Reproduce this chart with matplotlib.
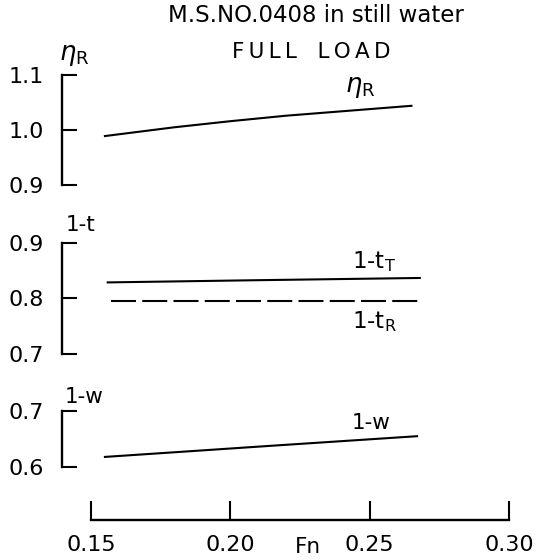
import matplotlib
matplotlib.use("Agg")
import matplotlib.pyplot as plt

# data (Fn vs. propulsion factors)
fn_eta = [0.155, 0.18, 0.20, 0.22, 0.24, 0.265]
eta_r = [0.989, 1.005, 1.016, 1.026, 1.034, 1.044]

fn_tt = [0.156, 0.21, 0.268]
t_thrust = [0.829, 0.833, 0.837]   # 1-tT

fn_tr = [0.157, 0.268]
t_resist = [0.795, 0.795]          # 1-tR

fn_w = [0.155, 0.215, 0.267]
one_w = [0.618, 0.638, 0.655]

x_ticks = [0.15, 0.20, 0.25, 0.30]
x_labels = ["0.15", "0.20", "0.25", "0.30"]

plt.rcParams["font.family"] = ["DejaVu Sans"]
plt.rcParams["mathtext.fontset"] = "dejavusans"

W, H = 542, 560
fig = plt.figure(figsize=(W / 100, H / 100), dpi=100)

# px -> Fn mapping: 0.15 at x=91, 0.30 at x=509
def fn_at(px):
    return 0.15 + (px - 91) * 0.15 / 418

x_left, x_right = 62, 520
xlim = (fn_at(x_left), fn_at(x_right))

fs = 15.5
lw = 1.5

def panel(top, bottom):
    ax = fig.add_axes([x_left / W, 1 - bottom / H, (x_right - x_left) / W, (bottom - top) / H])
    ax.set_xlim(*xlim)
    for s in ["top", "right", "bottom"]:
        ax.spines[s].set_visible(False)
    ax.spines["left"].set_linewidth(1.7)
    ax.tick_params(axis="y", direction="in", length=11, width=1.5, pad=13, labelsize=fs + 0.5)
    ax.set_xticks([])
    ax.patch.set_alpha(0)
    return ax

# eta_R panel
ax1 = panel(75, 185)
ax1.set_ylim(0.9, 1.1)
ax1.set_yticks([0.9, 1.0, 1.1])
ax1.set_yticklabels(["0.9", "1.0", "1.1"])
ax1.plot(fn_eta, eta_r, color="black", lw=lw)
ax1.text(fn_at(345), 1.078, r"$\eta_\mathrm{R}$", fontsize=fs + 3, va="center")
ax1.text(fn_at(59), 1.136, r"$\eta_\mathrm{R}$", fontsize=fs + 3, va="center")

# 1-t panel
ax2 = panel(243, 354)
ax2.set_ylim(0.7, 0.9)
ax2.set_yticks([0.7, 0.8, 0.9])
ax2.set_yticklabels(["0.7", "0.8", "0.9"])
ax2.plot(fn_tt, t_thrust, color="black", lw=lw)
ax2.plot(fn_tr, t_resist, color="black", lw=lw, dashes=(12, 3))
ax2.text(fn_at(352), 0.866, r"1-t$_\mathrm{T}$", fontsize=fs + 1, va="center")
ax2.text(fn_at(352), 0.758, r"1-t$_\mathrm{R}$", fontsize=fs + 1, va="center")
ax2.text(fn_at(66), 0.932, "1-t", fontsize=fs, va="center")

# 1-w panel
ax3 = panel(411, 467)
ax3.set_ylim(0.6, 0.7)
ax3.set_yticks([0.6, 0.7])
ax3.set_yticklabels(["0.6", "0.7"])
ax3.plot(fn_w, one_w, color="black", lw=lw)
ax3.text(fn_at(352), 0.678, "1-w", fontsize=fs, va="center")
ax3.text(fn_at(65), 0.725, "1-w", fontsize=fs, va="center")

# Fn axis
axb = fig.add_axes([x_left / W, 1 - 520 / H, (x_right - x_left) / W, 30 / H])
axb.set_xlim(*xlim)
axb.set_ylim(0, 1)
for s in ["top", "right", "left"]:
    axb.spines[s].set_visible(False)
axb.spines["bottom"].set_bounds(0.15, 0.30)
axb.spines["bottom"].set_linewidth(1.7)
axb.set_yticks([])
axb.set_xticks(x_ticks)
axb.set_xticklabels(x_labels)
axb.tick_params(axis="x", direction="in", length=14, width=1.5, pad=11, labelsize=fs + 0.5)
axb.patch.set_alpha(0)
fig.text(308 / W, 1 - 547 / H, "Fn", fontsize=fs, ha="center", va="center")

# titles
fig.text(316 / W, 1 - 15 / H, "M.S.NO.0408 in still water", fontsize=fs + 1, ha="center", va="center")
fig.text(311 / W, 1 - 52 / H, "F\u2009U\u2009L\u2009L   L\u2009O\u2009A\u2009D", fontsize=fs, ha="center", va="center")

fig.savefig("out.png", dpi=100)
